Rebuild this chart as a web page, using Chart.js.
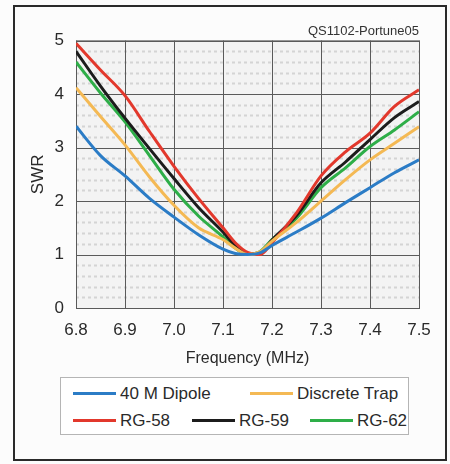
<!DOCTYPE html>
<html>
<head>
<meta charset="utf-8">
<script src="https://cdn.jsdelivr.net/npm/chart.js@4.4.1/dist/chart.umd.min.js"></script>
<style>
  body { margin: 0; background: #fcfcfc; font-family: 'Liberation Sans', Arial, sans-serif; }
  #wrap { position: relative; width: 450px; height: 464px; }
  #frame { position: absolute; left: 13px; top: 5px; width: 430px; height: 452px; border: 2px solid #2a2a2a; }
  #legend { position: absolute; left: 60px; top: 377px; width: 347px; height: 56px; border: 1px solid #b5b5b5; background: #fff; }
  .item { position: absolute; font-size: 17px; color: #2a2a2a; line-height: 20px; }
  .swatch { display: inline-block; width: 43px; height: 3px; vertical-align: middle; margin-right: 4px; position: relative; top: -1px; }
  canvas { position: absolute; left: 0; top: 0; }
</style>
</head>
<body>
<div id="wrap">
  <div id="frame"></div>
  <canvas id="swrChart" width="450" height="464"></canvas>
  <div id="legend"></div>
</div>
<script>
// frequencies (MHz) and SWR readings per antenna
const freqs = [6.8, 6.85, 6.9, 6.95, 7.0, 7.05, 7.1, 7.125, 7.15, 7.175, 7.2, 7.25, 7.3, 7.35, 7.4, 7.45, 7.5];
const dipole = [3.4, 2.85, 2.47, 2.05, 1.7, 1.37, 1.1, 1.02, 1.0, 1.03, 1.17, 1.42, 1.68, 1.97, 2.25, 2.53, 2.77];
const discreteTrap = [4.12, 3.58, 3.05, 2.45, 1.92, 1.5, 1.28, 1.12, 1.0, 1.05, 1.25, 1.6, 2.0, 2.4, 2.77, 3.08, 3.39];
const rg58 = [4.95, 4.45, 3.97, 3.3, 2.65, 2.05, 1.5, 1.22, 1.04, 1.0, 1.22, 1.78, 2.47, 2.92, 3.27, 3.77, 4.08];
const rg59 = [4.8, 4.15, 3.55, 2.98, 2.42, 1.88, 1.42, 1.17, 1.02, 1.03, 1.27, 1.73, 2.34, 2.73, 3.15, 3.56, 3.86];
const rg62 = [4.6, 4.02, 3.48, 2.85, 2.22, 1.72, 1.33, 1.12, 1.0, 1.05, 1.28, 1.68, 2.25, 2.62, 3.02, 3.33, 3.67];

const seriesNames = ['40 M Dipole', 'Discrete Trap', 'RG-58', 'RG-59', 'RG-62'];
const seriesColors = ['#2b7cc6', '#f4b954', '#e2382c', '#1c1c1c', '#2eae48'];
const seriesValues = [dipole, discreteTrap, rg58, rg59, rg62];

const xTicks = [6.8, 6.9, 7.0, 7.1, 7.2, 7.3, 7.4, 7.5];
const yTicks = [0, 1, 2, 3, 4, 5];

const FONT = "'Liberation Sans', Arial, sans-serif";

// light dotted background inside the plot like the scanned graph paper
const plotBackground = {
  id: 'plotBackground',
  beforeDatasetsDraw(chart) {
    const { ctx, chartArea: a, scales } = chart;
    ctx.save();
    ctx.fillStyle = '#f3f3f3';
    ctx.fillRect(a.left, a.top, a.right - a.left, a.bottom - a.top);
    ctx.strokeStyle = '#d4d4d4';
    ctx.lineWidth = 2;
    ctx.setLineDash([3, 3]);
    for (let v = 0.2; v < 5; v += 0.2) {
      if (Math.abs(v - Math.round(v)) < 0.01) continue;
      const y = Math.round(scales.y.getPixelForValue(v)) + 0.5;
      ctx.beginPath();
      ctx.moveTo(a.left, y);
      ctx.lineTo(a.right, y);
      ctx.stroke();
    }
    ctx.restore();
    // redraw major grid on top of the fill
    ctx.save();
    ctx.strokeStyle = '#5a5a5a';
    ctx.lineWidth = 1;
    xTicks.forEach(t => {
      const x = Math.round(scales.x.getPixelForValue(t)) + 0.5;
      ctx.beginPath(); ctx.moveTo(x, a.top); ctx.lineTo(x, a.bottom); ctx.stroke();
    });
    yTicks.forEach(t => {
      const y = Math.round(scales.y.getPixelForValue(t)) + 0.5;
      ctx.beginPath(); ctx.moveTo(a.left, y); ctx.lineTo(a.right, y); ctx.stroke();
    });
    ctx.restore();
  }
};

const datasets = seriesNames.map((name, i) => ({
  label: name,
  data: freqs.map((f, j) => ({ x: f, y: seriesValues[i][j] })),
  borderColor: seriesColors[i],
  borderWidth: 3,
  pointRadius: 0,
  cubicInterpolationMode: 'monotone',
  fill: false
}));

new Chart(document.getElementById('swrChart'), {
  type: 'line',
  data: { datasets: datasets },
  options: {
    responsive: false,
    animation: false,
    layout: { padding: { left: 20, right: 31, top: 22, bottom: 96 } },
    plugins: {
      legend: { display: false },
      tooltip: { enabled: false },
      title: {
        display: true,
        text: 'QS1102-Portune05',
        align: 'end',
        color: '#333',
        font: { family: FONT, size: 13, weight: 'normal' },
        padding: { top: 2, bottom: 1 }
      }
    },
    scales: {
      x: {
        type: 'linear',
        min: 6.8,
        max: 7.5,
        afterBuildTicks: s => { s.ticks = xTicks.map(v => ({ value: v })); },
        afterFit: s => { s.height = 60; },
        ticks: {
          callback: v => v.toFixed(1),
          color: '#2a2a2a',
          font: { family: FONT, size: 17 },
          padding: 12,
          maxRotation: 0
        },
        grid: { color: '#5a5a5a', drawTicks: false },
        border: { color: '#5a5a5a' },
        title: {
          display: true,
          text: 'Frequency (MHz)',
          color: '#2a2a2a',
          font: { family: FONT, size: 16 },
          padding: { top: 0, bottom: 0 }
        }
      },
      y: {
        min: 0,
        max: 5,
        afterBuildTicks: s => { s.ticks = yTicks.map(v => ({ value: v })); },
        afterFit: s => { s.width = 56; },
        ticks: {
          color: '#2a2a2a',
          font: { family: FONT, size: 17 },
          padding: 12
        },
        grid: { color: '#5a5a5a', drawTicks: false },
        border: { color: '#5a5a5a' },
        title: {
          display: true,
          text: 'SWR',
          color: '#2a2a2a',
          font: { family: FONT, size: 17 },
          padding: { top: 8, bottom: 0 }
        }
      }
    }
  },
  plugins: [plotBackground]
});

// legend laid out in two rows like the original
const legendSpots = [[12, 6], [189, 6], [12, 33], [131, 33], [249, 33]];
const legendBox = document.getElementById('legend');
seriesNames.forEach((name, i) => {
  const el = document.createElement('div');
  el.className = 'item';
  el.style.left = legendSpots[i][0] + 'px';
  el.style.top = legendSpots[i][1] + 'px';
  el.innerHTML = '<span class="swatch" style="background:' + seriesColors[i] + '"></span>' + name;
  legendBox.appendChild(el);
});
</script>
</body>
</html>
